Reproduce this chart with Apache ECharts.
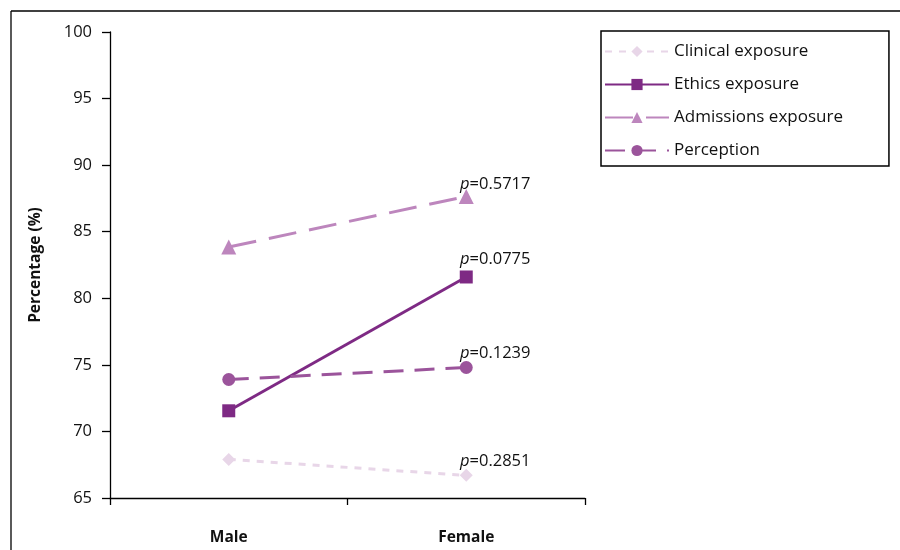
<!DOCTYPE html>
<html>
<head>
<meta charset="utf-8">
<script src="https://cdn.jsdelivr.net/npm/echarts@6/dist/echarts.min.js"></script>
<style>html,body{margin:0;padding:0;background:#fff;}#c{width:900px;height:550px;}</style>
</head>
<body>
<div id="c"></div>
<script>
var categories = ['Male', 'Female'];
var seriesNames = ['Clinical exposure', 'Ethics exposure', 'Admissions exposure', 'Perception'];
var clinical = [67.9, 66.7];
var ethics = [71.55, 81.6];
var admissions = [83.85, 87.65];
var perception = [73.9, 74.8];
var pValues = ['0.2851', '0.0775', '0.5717', '0.1239'];
var yTicks = { min: 65, max: 100, interval: 5 };

var FONT = '"Open Sans", "Noto Sans", sans-serif';
var colors = ['#e8d6e8', '#7e2a84', '#bd86bd', '#9b549b'];
var symbols = ['diamond', 'rect', 'triangle', 'circle'];
var symbolSizes = [13, 13, 15, 13];
var dashes = [[7, 7], 'solid', [28, 13], [20, 11]];
var labelDy = [-14, -18, -12, -14];
var values = [clinical, ethics, admissions, perception];

function makeSeries(i) {
  return {
    name: seriesNames[i],
    type: 'line',
    symbol: symbols[i],
    symbolSize: symbolSizes[i],
    color: colors[i],
    lineStyle: { width: 3, type: dashes[i], color: colors[i] },
    itemStyle: { color: colors[i] },
    z: i === 0 ? 1 : 2 + i,
    data: values[i].map(function (v, j) {
      var d = { value: v };
      if (j === values[i].length - 1) {
        d.label = {
          show: true,
          position: 'inside',
          offset: [29, labelDy[i]],
          formatter: '{i|p}=' + pValues[i],
          color: '#111',
          fontSize: 16.5,
          fontFamily: FONT,
          rich: { i: { fontStyle: 'italic', fontSize: 16.5, fontFamily: FONT, color: '#111' } }
        };
      }
      return d;
    })
  };
}

var chart = echarts.init(document.getElementById('c'));
chart.setOption({
  animation: false,
  backgroundColor: '#fff',
  textStyle: { fontFamily: FONT },
  grid: { left: 110, right: 315, top: 32, bottom: 52 },
  legend: {
    orient: 'vertical',
    left: 601,
    top: 31,
    padding: [12, 46, 7, 3],
    borderColor: '#000',
    borderWidth: 1.5,
    itemWidth: 64,
    itemHeight: 14,
    itemGap: 16,
    textStyle: { fontSize: 17, color: '#111', fontFamily: FONT },
    data: seriesNames
  },
  xAxis: {
    type: 'category',
    data: categories,
    boundaryGap: true,
    axisLine: { lineStyle: { color: '#000', width: 1.3 } },
    axisTick: { show: true, length: 7, lineStyle: { color: '#000', width: 1.3 } },
    axisLabel: { margin: 32, fontSize: 15.5, fontWeight: 'bold', color: '#111', fontFamily: FONT }
  },
  yAxis: {
    type: 'value',
    min: yTicks.min,
    max: yTicks.max,
    interval: yTicks.interval,
    name: 'Percentage (%)',
    nameLocation: 'middle',
    nameGap: 66,
    nameTextStyle: { fontSize: 15.5, fontWeight: 'bold', color: '#111', fontFamily: FONT },
    axisLine: { show: true, lineStyle: { color: '#000', width: 1.3 } },
    axisTick: { show: true, length: 8, lineStyle: { color: '#000', width: 1.3 } },
    splitLine: { show: false },
    axisLabel: { margin: 18, fontSize: 16.5, color: '#111', fontFamily: FONT }
  },
  graphic: [
    { type: 'line', shape: { x1: 11, y1: 11, x2: 900, y2: 11 }, style: { stroke: '#000', lineWidth: 1.3 } },
    { type: 'line', shape: { x1: 11, y1: 11, x2: 11, y2: 550 }, style: { stroke: '#000', lineWidth: 1.3 } }
  ],
  series: [0, 1, 2, 3].map(makeSeries)
});
</script>
</body>
</html>
